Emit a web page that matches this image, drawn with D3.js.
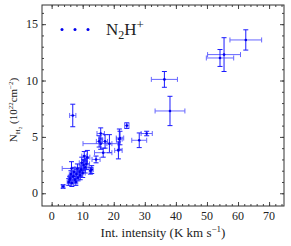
<!DOCTYPE html>
<html>
<head>
<meta charset="utf-8">
<script src="https://cdn.jsdelivr.net/npm/d3@7"></script>
<style>
	body { margin: 0; background: white; }
	svg text { font-family: 'Liberation Serif', 'Times New Roman', serif; fill: #222; }
</style>
</head>
<body>
<div id="chart"></div>
<script>
// integrated intensity (K km/s) and errors
var intensity = [62.5, 55.5, 54.2, 36.3, 38.1, 6.8, 24.2, 30.6, 28.2, 15.8, 15.8, 18.6, 21.8, 21.5,
	16.6, 14.3, 11.5, 12.9, 12.5, 9.7, 3.7, 6.4, 10.5, 17.2, 15.3, 22.0,
	5.5, 6.0, 6.5, 7.0, 7.5, 8.0, 8.5, 9.0, 9.5, 10.0, 10.8, 11.2, 6.2, 7.2, 8.3, 9.2, 5.8, 7.8, 10.3];
var intensity_err = [5.1, 5.3, 4.4, 4.2, 4.8, 1.0, 0.7, 1.8, 2.4, 1.2, 5.7, 0.8, 0.9, 1.2,
	2.8, 1.3, 0.8, 0.5, 0.4, 0.8, 0.5, 3.0, 0.8, 0.8, 0.9, 1.2,
	0.5, 0.6, 0.5, 0.7, 0.6, 0.8, 0.6, 0.9, 0.7, 0.8, 0.9, 1.0, 0.5, 0.6, 0.8, 0.7, 0.5, 0.6, 0.9];
// N_H2 column density (1e22 cm^-2) and errors
var column = [13.6, 12.3, 12.0, 10.1, 7.3, 6.9, 6.0, 5.3, 4.7, 5.3, 4.4, 4.4, 4.8, 3.8,
	3.6, 3.0, 3.2, 2.1, 2.0, 2.7, 0.6, 2.2, 3.3, 4.6, 4.6, 4.9,
	1.0, 1.3, 0.9, 1.5, 1.2, 1.7, 1.4, 1.9, 2.1, 1.8, 2.3, 2.6, 1.7, 1.9, 2.2, 1.6, 1.2, 1.0, 2.5];
var column_err = [0.9, 1.5, 0.75, 0.7, 1.3, 1.0, 0.25, 0.2, 0.65, 0.5, 0.5, 0.8, 0.9, 0.75,
	0.4, 0.3, 0.6, 0.35, 0.3, 0.5, 0.15, 0.6, 0.4, 0.6, 0.5, 0.6,
	0.3, 0.3, 0.3, 0.4, 0.3, 0.4, 0.3, 0.4, 0.4, 0.4, 0.5, 0.5, 0.3, 0.4, 0.4, 0.4, 0.3, 0.3, 0.5];

var x_ticks = [0, 10, 20, 30, 40, 50, 60, 70];
var y_ticks = [0, 5, 10, 15];

var data = intensity.map(function(d, i) {
	return {x: d, xe: intensity_err[i], y: column[i], ye: column_err[i]};
});

var margin = {top: 5, right: 7, bottom: 40, left: 42};
var width = 291 - margin.left - margin.right;
var height = 246 - margin.top - margin.bottom;

var svg = d3.select('#chart')
	.append('svg')
	.attr('width', 291)
	.attr('height', 246);

var g = svg.append('g')
	.attr('transform', 'translate(' + margin.left + ',' + margin.top + ')');

var x = d3.scaleLinear().domain([-3.1, 74.8]).range([0, width]);
var y = d3.scaleLinear().domain([-1.13, 16.7]).range([height, 0]);

// ticks inside the frame, all four sides
function add_ticks(axis, transform, values, size) {
	var a = g.append('g')
		.attr('transform', transform)
		.call(axis.tickValues(values).tickSizeInner(size).tickSizeOuter(0).tickFormat(''));
	a.select('.domain').remove();
	a.selectAll('line').attr('stroke', '#444');
	return a;
}
var x_minor = d3.range(0, 75, 2);
var y_minor = d3.range(0, 17, 1);

add_ticks(d3.axisTop(x), 'translate(0,' + height + ')', x_minor, 2);
add_ticks(d3.axisTop(x), 'translate(0,' + height + ')', x_ticks, 4);
add_ticks(d3.axisBottom(x), 'translate(0,0)', x_minor, 2);
add_ticks(d3.axisBottom(x), 'translate(0,0)', x_ticks, 4);
add_ticks(d3.axisRight(y), 'translate(0,0)', y_minor, 2);
add_ticks(d3.axisRight(y), 'translate(0,0)', y_ticks, 4);
add_ticks(d3.axisLeft(y), 'translate(' + width + ',0)', y_minor, 2);
add_ticks(d3.axisLeft(y), 'translate(' + width + ',0)', y_ticks, 4);

// tick labels
g.append('g').selectAll('text')
	.data(x_ticks)
	.enter()
	.append('text')
		.attr('x', function(d) { return x(d); })
		.attr('y', height + 14)
		.attr('text-anchor', 'middle')
		.style('font-size', '12px')
		.text(function(d) { return d; });
g.append('g').selectAll('text')
	.data(y_ticks)
	.enter()
	.append('text')
		.attr('x', -4)
		.attr('y', function(d) { return y(d) + 4; })
		.attr('text-anchor', 'end')
		.style('font-size', '12px')
		.text(function(d) { return d; });

// frame
g.append('rect')
	.attr('width', width)
	.attr('height', height)
	.attr('fill', 'none')
	.attr('stroke', '#333')
	.attr('stroke-width', 1);

// error bars
var cap = 2.5;
var bars = g.append('g');
data.forEach(function(d) {
	var h = bars.append('g').attr('stroke', '#4d4dff').attr('stroke-width', 1).attr('opacity', 0.85);
	h.append('line')
		.attr('x1', x(d.x - d.xe)).attr('x2', x(d.x + d.xe))
		.attr('y1', y(d.y)).attr('y2', y(d.y));
	h.append('line')
		.attr('x1', x(d.x - d.xe)).attr('x2', x(d.x - d.xe))
		.attr('y1', y(d.y) - cap).attr('y2', y(d.y) + cap);
	h.append('line')
		.attr('x1', x(d.x + d.xe)).attr('x2', x(d.x + d.xe))
		.attr('y1', y(d.y) - cap).attr('y2', y(d.y) + cap);
	var v = bars.append('g').attr('stroke', '#1a1aff').attr('stroke-width', 1);
	v.append('line')
		.attr('x1', x(d.x)).attr('x2', x(d.x))
		.attr('y1', y(d.y - d.ye)).attr('y2', y(d.y + d.ye));
	v.append('line')
		.attr('x1', x(d.x) - cap).attr('x2', x(d.x) + cap)
		.attr('y1', y(d.y - d.ye)).attr('y2', y(d.y - d.ye));
	v.append('line')
		.attr('x1', x(d.x) - cap).attr('x2', x(d.x) + cap)
		.attr('y1', y(d.y + d.ye)).attr('y2', y(d.y + d.ye));
});

// points
g.append('g')
	.selectAll('circle')
	.data(data)
	.enter()
	.append('circle')
		.attr('cx', function(d) { return x(d.x); })
		.attr('cy', function(d) { return y(d.y); })
		.attr('r', 1.3)
		.attr('fill', '#0000ee');

// legend
svg.selectAll('.legdot')
	.data([62, 75, 88])
	.enter()
	.append('circle')
		.attr('cx', function(d) { return d; })
		.attr('cy', 29.5)
		.attr('r', 1.5)
		.attr('fill', '#0000ee');
var leg = svg.append('text')
	.attr('x', 106)
	.attr('y', 35)
	.style('font-size', '17px');
leg.append('tspan').text('N');
leg.append('tspan').attr('dy', 4).style('font-size', '12px').text('2');
leg.append('tspan').attr('dy', -4).text('H');
leg.append('tspan').attr('dy', -6).style('font-size', '13px').text('+');

// x axis label
var xl = svg.append('text')
	.attr('x', 163)
	.attr('y', 237)
	.attr('text-anchor', 'middle')
	.style('font-size', '13px');
xl.append('tspan').text('Int. intensity (K km s');
xl.append('tspan').attr('dy', -5).style('font-size', '9px').text('\u22121');
xl.append('tspan').attr('dy', 5).text(')');

// y axis label
var yl = svg.append('text')
	.attr('transform', 'translate(17,110) rotate(-90)')
	.attr('text-anchor', 'middle')
	.style('font-size', '11px');
yl.append('tspan').text('N');
yl.append('tspan').attr('dy', 3).style('font-size', '7px').text('H');
yl.append('tspan').attr('dy', 1.5).style('font-size', '5px').text('2');
yl.append('tspan').attr('dy', -4.5).text(' (10');
yl.append('tspan').attr('dy', -4).style('font-size', '7px').text('22');
yl.append('tspan').attr('dy', 4).text('cm');
yl.append('tspan').attr('dy', -4).style('font-size', '7px').text('\u22122');
yl.append('tspan').attr('dy', 4).text(')');
</script>
</body>
</html>
